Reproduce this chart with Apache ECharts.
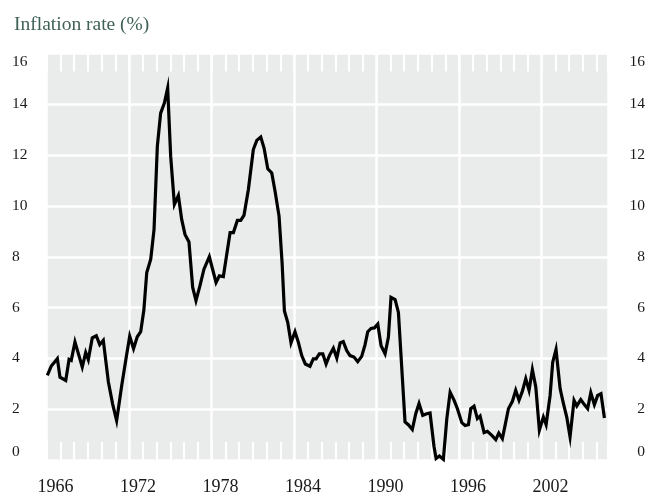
<!DOCTYPE html>
<html>
<head>
<meta charset="utf-8">
<script src="https://cdn.jsdelivr.net/npm/echarts@6/dist/echarts.min.js"></script>
<style>
html,body{margin:0;padding:0;background:#fff;}
#chart{width:648px;height:496px;}
</style>
</head>
<body>
<div id="chart"></div>
<script>
// Time (decimal years) of each reading
const years = [
  1966.06,1966.35,1966.79,1966.98,1967.40,1967.64,1967.80,1968.07,1968.60,1968.85,
  1969.04,1969.33,1969.62,1969.87,1970.13,1970.50,1970.81,1971.10,1971.47,1971.78,
  1972.05,1972.33,1972.60,1972.85,1973.08,1973.29,1973.58,1973.82,1974.06,1974.30,
  1974.57,1974.81,1975.03,1975.30,1975.59,1975.83,1976.07,1976.36,1976.63,1976.87,
  1977.16,1977.45,1977.84,1978.33,1978.57,1978.86,1979.35,1979.59,1979.88,1980.12,
  1980.36,1980.68,1981.04,1981.29,1981.58,1981.82,1982.09,1982.38,1982.62,1982.91,
  1983.13,1983.30,1983.54,1983.78,1984.07,1984.31,1984.56,1984.82,1985.16,1985.40,
  1985.60,1985.84,1986.09,1986.33,1986.57,1986.86,1987.11,1987.35,1987.58,1987.83,
  1988.07,1988.36,1988.63,1988.92,1989.16,1989.36,1989.60,1989.84,1990.09,1990.33,
  1990.62,1990.86,1991.05,1991.35,1991.59,1992.07,1992.31,1992.60,1992.85,1993.09,
  1993.36,1993.65,1993.89,1994.18,1994.33,1994.57,1994.86,1995.11,1995.35,1995.64,
  1995.88,1996.20,1996.44,1996.68,1996.85,1997.09,1997.33,1997.53,1997.82,1998.06,
  1998.38,1998.67,1998.89,1999.15,1999.35,1999.59,1999.88,2000.12,2000.36,2000.60,
  2000.85,2001.09,2001.33,2001.58,2001.84,2002.13,2002.33,2002.62,2002.81,2003.05,
  2003.35,2003.59,2003.83,2004.07,2004.36,2004.56,2004.85,2005.11,2005.35,2005.58,
  2005.84,2006.08,2006.32,2006.57
];
// Inflation rate (%)
const inflation = [
  3.33,3.70,3.99,3.26,3.13,3.96,3.92,4.65,3.66,4.23,
  3.95,4.81,4.89,4.54,4.71,3.07,2.20,1.55,2.93,3.99,
  4.87,4.38,4.85,5.05,5.90,7.38,7.90,9.08,12.35,13.65,
  14.05,14.64,11.95,10.06,10.41,9.47,8.88,8.58,6.79,6.27,
  6.86,7.51,8.00,6.99,7.25,7.22,8.95,8.95,9.43,9.43,
  9.63,10.65,12.22,12.58,12.71,12.28,11.46,11.30,10.58,9.60,
  7.77,5.87,5.42,4.61,5.05,4.64,4.11,3.78,3.69,3.98,
  3.98,4.18,4.18,3.78,4.11,4.40,4.01,4.61,4.66,4.31,
  4.11,4.05,3.87,4.08,4.53,5.05,5.18,5.20,5.35,4.50,
  4.18,4.83,6.40,6.31,5.81,1.50,1.39,1.20,1.82,2.22,
  1.76,1.82,1.85,0.52,0.06,0.16,0.03,1.63,2.67,2.35,
  2.02,1.47,1.36,1.39,2.02,2.12,1.63,1.73,1.08,1.13,
  0.97,0.80,1.06,0.84,1.37,2.02,2.31,2.74,2.35,2.70,
  3.20,2.74,3.56,2.87,1.17,1.69,1.39,2.54,3.85,4.35,
  2.80,2.22,1.69,0.91,2.35,2.13,2.38,2.18,2.02,2.65,
  2.18,2.54,2.61,1.65
];
const xMin = 1966, xMax = 2006.83, labelStep = 6;
const yMin = 0, yMax = 16, yStep = 2;
const titleText = 'Inflation rate (%)';

const font = '"Liberation Serif", "DejaVu Serif", serif';
const chart = echarts.init(document.getElementById('chart'), null, {renderer: 'canvas'});
const seriesData = years.map((y, i) => [y, inflation[i]]);

const baseX = {type: 'value', min: xMin, max: xMax, gridIndex: 0};
const tickStyle = {show: true, inside: true, length: 18, lineStyle: {color: '#ffffff', width: 2.2}};
chart.setOption({
  animation: false,
  backgroundColor: '#ffffff',
  title: {
    text: titleText, left: 9, top: 10,
    textStyle: {fontFamily: font, fontSize: 19.5, fontWeight: 'normal', color: '#3f6157'}
  },
  grid: {
    left: 46.5, right: 40, top: 53.5, bottom: 34.5,
    show: true, backgroundColor: '#e9eceb', borderWidth: 0, containLabel: false
  },
  xAxis: [
    Object.assign({}, baseX, {
      position: 'bottom', interval: 1,
      axisLine: {show: false, onZero: false},
      axisTick: tickStyle,
      axisLabel: {show: false}, splitLine: {show: false}
    }),
    Object.assign({}, baseX, {
      position: 'top', interval: 1,
      axisLine: {show: false, onZero: false},
      axisTick: tickStyle,
      axisLabel: {show: false}, splitLine: {show: false}
    }),
    Object.assign({}, baseX, {
      position: 'bottom', interval: labelStep,
      axisLine: {show: false, onZero: false}, axisTick: {show: false},
      splitLine: {show: true, lineStyle: {color: '#ffffff', width: 2.5}},
      axisLabel: {
        show: true, margin: 18, fontFamily: font, fontSize: 18, color: '#1a1a1a',
        padding: [0, 0, 0, 18],
        showMinLabel: true, showMaxLabel: true,
        formatter: v => (Math.abs((v - xMin) % labelStep) < 1e-6 && v <= 2002) ? String(Math.round(v)) : ''
      }
    })
  ],
  yAxis: [
    {
      type: 'value', min: yMin, max: yMax, interval: yStep, position: 'left',
      axisLine: {show: false, onZero: false}, axisTick: {show: false},
      splitLine: {show: true, lineStyle: {color: '#ffffff', width: 2.5}},
      axisLabel: {
        margin: 34.5, align: 'left', fontFamily: font, fontSize: 15.5, color: '#1a1a1a',
        verticalAlignMinLabel: 'bottom', verticalAlignMaxLabel: 'top'
      }
    },
    {
      type: 'value', min: yMin, max: yMax, interval: yStep, position: 'right',
      axisLine: {show: false, onZero: false}, axisTick: {show: false}, splitLine: {show: false},
      axisLabel: {
        margin: 37, align: 'right', fontFamily: font, fontSize: 15.5, color: '#1a1a1a',
        verticalAlignMinLabel: 'bottom', verticalAlignMaxLabel: 'top'
      }
    }
  ],
  series: [{
    type: 'line', xAxisIndex: 0, yAxisIndex: 0,
    data: seriesData, showSymbol: false, symbol: 'none',
    lineStyle: {color: '#000000', width: 3.2, join: 'miter'},
    z: 5, clip: false
  }]
});
</script>
</body>
</html>
